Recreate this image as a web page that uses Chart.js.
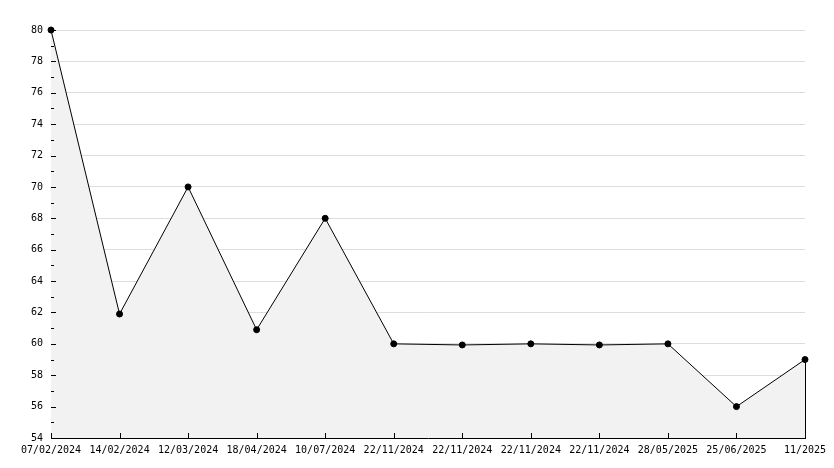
<!DOCTYPE html>
<html>
<head>
<meta charset="utf-8">
<script src="https://cdn.jsdelivr.net/npm/chart.js@4/dist/chart.umd.min.js"></script>
<style>html,body{margin:0;padding:0;background:#fff;}canvas{display:block;}</style>
</head>
<body>
<canvas id="c" width="834" height="468"></canvas>
<script>
const categories = ["07/02/2024","14/02/2024","12/03/2024","18/04/2024","10/07/2024","22/11/2024","22/11/2024","22/11/2024","22/11/2024","28/05/2025","25/06/2025","11/2025"];
const values = [80, 61.9, 70, 60.9, 68, 60, 59.93, 60, 59.93, 60, 56, 59];
const yMin = 54, yMax = 80, yStep = 2;

const tickPlugin = {
  id: 'innerTicks',
  afterDatasetsDraw(chart) {
    const ctx = chart.ctx;
    const y = chart.scales.y, x = chart.scales.x;
    const left = chart.chartArea.left, bottom = chart.chartArea.bottom;
    ctx.save();
    ctx.strokeStyle = '#000';
    ctx.lineWidth = 1;
    ctx.beginPath();
    for (let v = yMin; v <= yMax; v += 1) {
      const py = Math.round(y.getPixelForValue(v)) + 0.5;
      const len = (v % 2 === 0) ? 5 : 3;
      ctx.moveTo(left, py); ctx.lineTo(left + len, py);
    }
    for (let i = 0; i < categories.length; i++) {
      const px = Math.round(x.getPixelForValue(i)) + 0.5;
      ctx.moveTo(px, bottom); ctx.lineTo(px, bottom - 5);
    }
    const last = values.length - 1;
    const lx = Math.round(x.getPixelForValue(last)) + 0.5;
    ctx.moveTo(lx, y.getPixelForValue(values[last]));
    ctx.lineTo(lx, bottom);
    ctx.stroke();
    ctx.restore();
  }
};

new Chart(document.getElementById('c'), {
  type: 'line',
  data: {
    labels: categories,
    datasets: [{
      data: values,
      clip: false,
      borderColor: '#000',
      borderWidth: 1,
      backgroundColor: '#f2f2f2',
      fill: 'start',
      tension: 0,
      pointStyle: 'circle',
      pointRadius: 3,
      pointBackgroundColor: '#000',
      pointBorderColor: '#000',
      pointBorderWidth: 1
    }]
  },
  options: {
    responsive: false,
    animation: false,
    layout: { padding: { top: 30, right: 29, left: 0, bottom: 0 } },
    plugins: { legend: { display: false }, tooltip: { enabled: false } },
    scales: {
      x: {
        type: 'category',
        offset: false,
        grid: { display: false, drawTicks: false },
        border: { display: true, color: '#000', width: 1 },
        ticks: {
          color: '#000', autoSkip: false, maxRotation: 0, minRotation: 0, padding: 6,
          font: { family: 'DejaVu Sans Mono', size: 10 }
        },
        afterFit(s) { s.height = 30; }
      },
      y: {
        min: yMin, max: yMax,
        grid: { color: '#dddddd', drawTicks: false },
        border: { display: true, color: '#000', width: 1 },
        ticks: {
          stepSize: yStep, color: '#000', padding: 8,
          font: { family: 'DejaVu Sans Mono', size: 10 }
        },
        afterFit(s) { s.width = 51; }
      }
    }
  },
  plugins: [tickPlugin]
});
</script>
</body>
</html>
